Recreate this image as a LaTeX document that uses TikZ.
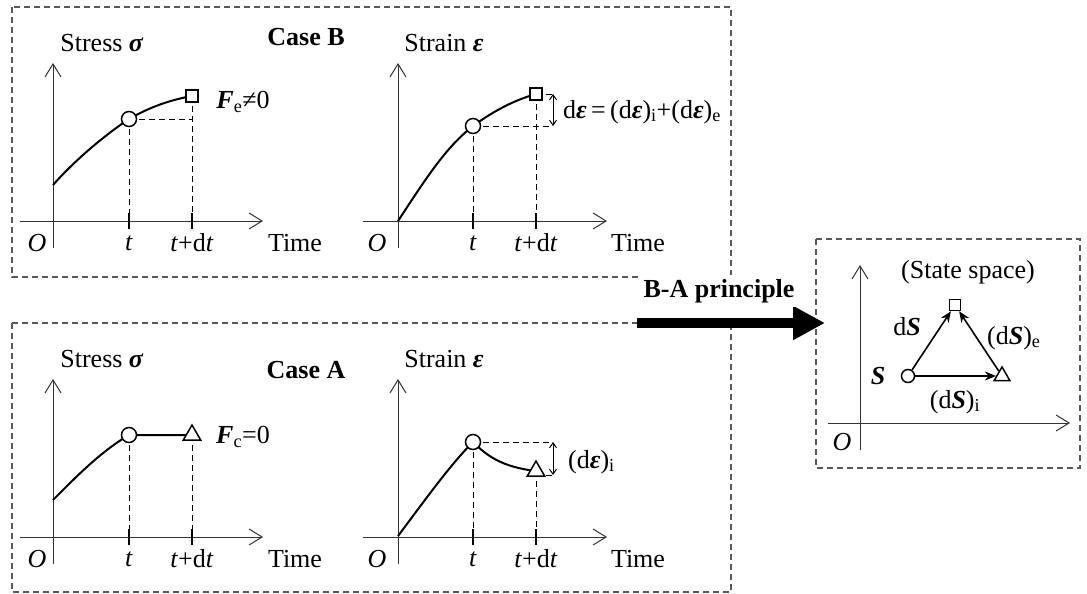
\documentclass[tikz,border=0pt]{standalone}
\usepackage{fontspec}
\setmainfont{Liberation Serif}
\usetikzlibrary{arrows.meta,shapes.geometric}

\newcommand{\bsig}{\textbf{\textit{σ}}}
\newcommand{\beps}{\textbf{\textit{ε}}}
\newcommand{\bvecF}{\textbf{\textit{F}}}
\newcommand{\bvecS}{\textbf{\textit{S}}}

\tikzset{
  casebox/.style={draw=black!65, dash pattern=on 6pt off 4pt, line width=1.2pt},
  axis/.style={draw=black!80, line width=1pt, -{Straight Barb[length=13pt,width=16pt]}},
  curve/.style={line width=2pt},
  guide/.style={dash pattern=on 6pt off 4pt, line width=1pt},
  tickmark/.style={line width=2pt},
  lab/.style={font=\fontsize{26}{30}\selectfont, inner sep=0pt},
  title/.style={lab, font=\fontsize{26}{30}\selectfont\bfseries},
  circ/.style={circle, draw, fill=white, line width=1.5pt, minimum size=15pt, inner sep=0pt},
  sqr/.style={rectangle, draw, fill=white, line width=1.5pt, minimum size=12pt, inner sep=0pt},
  tri/.style={regular polygon, regular polygon sides=3, draw, fill=white, line width=1.5pt, minimum size=20pt, inner sep=0pt},
  gap/.style={line width=1pt, {Straight Barb[length=5pt,width=7pt]}-{Straight Barb[length=5pt,width=7pt]}},
  flow/.style={line width=1.6pt, -{Stealth[length=11pt,width=9pt]}},
  bigarrow/.style={line width=10pt, -{Triangle[length=32pt,width=32pt]}}
}

\begin{document}
\begin{tikzpicture}[x=1pt, y=-1pt]
\useasboundingbox (0,0) rectangle (1087,594);
% dashed frames: case B, case A, state space
\draw[casebox] (12,7) rectangle (731,277);
\draw[casebox] (12,323) rectangle (731,592);
\draw[casebox] (816,239) rectangle (1080,468);

% axes, ticks and labels common to both cases
\foreach \dy/\cs in {0/B,316/A}{
\begin{scope}[shift={(0,\dy)}]
\draw[axis] (20,221) -- (263,221);
\draw[axis] (53,248) -- (53,63);
\draw[axis] (363,221) -- (607,221);
\draw[axis] (398,248) -- (398,63);
\draw[tickmark] (129,213) -- (129,229) (192,213) -- (192,229)
                (473,213) -- (473,229) (536,213) -- (536,229);
\node[lab] (stress\cs) at (102,43) {Stress \bsig};
\node[lab] (strain\cs) at (444,43) {Strain \beps};
\node[lab] (os\cs) at (37,243) {\textit{O}};
\node[lab] (ts\cs) at (129,243) {\textit{t}};
\node[lab] (dts\cs) at (192,243) {\textit{t}+d\textit{t}};
\node[lab] (times\cs) at (295,243) {Time};
\node[lab] (oe\cs) at (377,243) {\textit{O}};
\node[lab] (te\cs) at (473,243) {\textit{t}};
\node[lab] (dte\cs) at (536,243) {\textit{t}+d\textit{t}};
\node[lab] (timee\cs) at (638,243) {Time};
\end{scope}
}

% Case B: stress
\node[title] (caseB) at (306,37) {Case B};
\coordinate (sBt) at (129,119);
\coordinate (sBdt) at (192,96);
\draw[curve] (53,185) .. controls (75,160) and (105,135) .. (sBt)
  .. controls (150,107) and (170,100) .. (sBdt);
\draw[guide] (sBt) -- (192,119) (sBt) -- (129,221) (sBdt) -- (192,221);
\node[circ] (cBs) at (sBt) {};
\node[sqr] (qBs) at (sBdt) {};
\node[lab] (fB) at (243,102) {\bvecF\textsubscript{e}≠0};
% Case B: strain
\coordinate (eBt) at (473,126);
\coordinate (eBdt) at (536,94);
\draw[curve] (398,221) .. controls (425,180) and (445,148) .. (eBt)
  .. controls (495,110) and (515,100) .. (eBdt);
\draw[guide] (eBt) -- (553,126) (eBdt) -- (553,94) (eBt) -- (473,221) (eBdt) -- (536,221);
\draw[gap] (553,94) -- (553,126);
\node[circ] (cBe) at (eBt) {};
\node[sqr] (qBe) at (eBdt) {};
\node[lab, anchor=west] (deB) at (563,112) {d\beps\,=\,(d\beps)\textsubscript{i}+(d\beps)\textsubscript{e}};

% Case A: stress
\node[title] (caseA) at (306,370) {Case A};
\coordinate (sAt) at (129,435);
\coordinate (sAdt) at (192,435);
\draw[curve] (53,500) .. controls (75,478) and (100,452) .. (sAt) -- (sAdt);
\draw[guide] (sAt) -- (129,537) (sAdt) -- (192,537);
\node[circ] (cAs) at (sAt) {};
\node[tri] (tAs) at (sAdt) {};
\node[lab] (fA) at (243,437) {\bvecF\textsubscript{c}=0};
% Case A: strain
\coordinate (eAt) at (473,442);
\coordinate (eAdt) at (536,471);
\draw[curve] (398,536) .. controls (425,500) and (450,465) .. (eAt)
  .. controls (487,456) and (502,467) .. (eAdt);
\draw[guide] (eAt) -- (553,442) (536,475) -- (553,475) (eAt) -- (473,536) (eAdt) -- (536,536);
\draw[gap] (553,442) -- (553,475);
\node[circ] (cAe) at (eAt) {};
\node[tri] (tAe) at (eAdt) {};
\node[lab, anchor=west] (deA) at (568,462) {(d\beps)\textsubscript{i}};

% B-A principle
\draw[bigarrow] (637,323) -- (825,323);
\node[title, fill=white, inner sep=4pt] (ba) at (719,291) {B-A principle};

% state space
\draw[axis] (828,423) -- (1070,423);
\draw[axis] (860,450) -- (860,265);
\node[lab] (oS) at (842,442) {\textit{O}};
\node[lab] (space) at (968,272) {(State space)};
\node[circ, minimum size=13pt] (S) at (908,376) {};
\node[sqr, minimum size=11pt] (Se) at (955,305) {};
\node[tri, minimum size=18pt] (Si) at (1002,376) {};
\draw[flow] (S) -- (Se);
\draw[flow] (S) -- (Si);
\draw[flow] (Si) -- (Se);
\node[lab] (lS) at (878,376) {\bvecS};
\node[lab] (ldS) at (907,327) {d\bvecS};
\node[lab, anchor=west] (ldSe) at (987,338) {(d\bvecS)\textsubscript{e}};
\node[lab] (ldSi) at (955,402) {(d\bvecS)\textsubscript{i}};
\end{tikzpicture}
\end{document}
